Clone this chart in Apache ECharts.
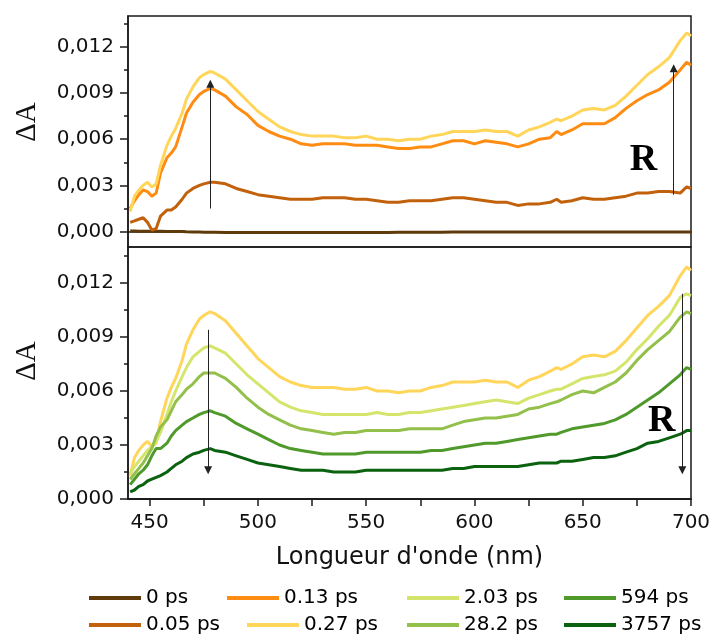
<!DOCTYPE html>
<html>
<head>
<meta charset="utf-8">
<script src="https://cdn.jsdelivr.net/npm/echarts@6/dist/echarts.min.js"></script>
<style>html,body{margin:0;padding:0;background:#fff}#chart{width:712px;height:636px}</style>
</head>
<body>
<div id="chart"></div>
<script>
// Wavelengths (nm)
const wl = [441,443,445,447,449,451,453,455,458,460,462,465,467,470,473,475,478,480,
  485,490,495,500,505,510,515,520,525,530,535,540,545,550,555,560,565,570,575,580,
  585,590,595,600,605,610,615,620,625,630,635,638,640,645,650,655,660,665,670,675,
  680,685,690,695,698,700];

// Series names
const names = ['0 ps','0.05 ps','0.13 ps','0.27 ps','2.03 ps','28.2 ps','594 ps','3757 ps'];

// ΔA values
const s0 = [0.00004,0.00004,0.00003,0.00003,0.00003,0.00002,0.00002,0.00002,0.00001,0.00001,0,0,-0.00001,-0.00002,-0.00003,-0.00004,-0.00005,-0.00005,
  -0.00006,-0.00006,-0.00006,-0.00006,-0.00006,-0.00006,-0.00006,-0.00006,-0.00006,-0.00006,-0.00006,-0.00006,-0.00006,-0.00006,-0.00006,-0.00006,
  -0.00005,-0.00005,-0.00004,-0.00004,-0.00004,-0.00003,-0.00003,-0.00003,-0.00002,-0.00002,-0.00002,-0.00002,-0.00002,-0.00002,-0.00002,-0.00002,
  -0.00002,-0.00002,-0.00002,-0.00002,-0.00002,-0.00002,-0.00002,-0.00002,-0.00002,-0.00002,-0.00002,-0.00002,-0.00002,-0.00002];
const s005 = [0.0006,0.0007,0.0008,0.0009,0.0006,0.0001,0.0002,0.0010,0.0014,0.0014,0.0016,0.0021,0.0025,0.0028,0.0030,0.0031,0.0032,0.0032,
  0.0031,0.0028,0.0026,0.0024,0.0023,0.0022,0.0021,0.0021,0.0021,0.0022,
  0.0022,0.0022,0.0021,0.0021,0.0020,0.0019,0.0019,0.0020,0.0020,0.0020,
  0.0021,0.0022,0.0022,0.0021,0.0020,0.0019,0.0019,0.0017,0.0018,0.0018,0.0019,0.0021,
  0.0019,0.0020,0.0022,0.0021,0.0021,0.0022,0.0023,0.0025,0.0025,0.0026,0.0026,0.0025,0.0029,0.0028];
const s013 = [0.0015,0.0020,0.0024,0.0027,0.0026,0.0023,0.0025,0.0038,0.0048,0.0051,0.0055,0.0068,0.0077,0.0084,0.0089,0.0091,0.0093,0.0092,
  0.0088,0.0081,0.0076,0.0069,0.0065,0.0062,0.0060,0.0057,0.0056,0.0057,
  0.0057,0.0057,0.0056,0.0056,0.0056,0.0055,0.0054,0.0054,0.0055,0.0055,
  0.0057,0.0059,0.0059,0.0057,0.0059,0.0058,0.0057,0.0055,0.0057,0.0060,0.0061,0.0065,
  0.0063,0.0066,0.0070,0.0070,0.0070,0.0074,0.0080,0.0085,0.0089,0.0092,0.0097,0.0105,0.0110,0.0108];
const s027 = [0.0013,0.0023,0.0027,0.0030,0.0032,0.0029,0.0031,0.0043,0.0056,0.0062,0.0067,0.0077,0.0086,0.0094,0.0100,0.0102,0.0104,0.0103,
  0.0099,0.0092,0.0085,0.0078,0.0073,0.0068,0.0065,0.0063,0.0062,0.0062,
  0.0062,0.0061,0.0061,0.0062,0.0060,0.0060,0.0059,0.0060,0.0060,0.0062,
  0.0063,0.0065,0.0065,0.0065,0.0066,0.0065,0.0065,0.0062,0.0066,0.0068,0.0071,0.0073,
  0.0072,0.0075,0.0079,0.0080,0.0079,0.0082,0.0088,0.0095,0.0102,0.0107,0.0113,0.0124,0.0129,0.0127];
const s203 = [0.0014,0.0018,0.0021,0.0024,0.0027,0.0029,0.0032,0.0037,0.0047,0.0054,0.0060,0.0068,0.0073,0.0079,0.0082,0.0084,0.0085,0.0084,
  0.0081,0.0075,0.0069,0.0064,0.0059,0.0054,0.0051,0.0049,0.0048,0.0047,
  0.0047,0.0047,0.0047,0.0047,0.0048,0.0047,0.0047,0.0048,0.0048,0.0049,
  0.0050,0.0051,0.0052,0.0053,0.0054,0.0055,0.0054,0.0053,0.0056,0.0058,0.0060,0.0061,
  0.0061,0.0064,0.0067,0.0068,0.0069,0.0071,0.0076,0.0083,0.0089,0.0096,0.0102,0.0112,0.0114,0.0113];
const s282 = [0.0011,0.0014,0.0017,0.0020,0.0024,0.0028,0.0035,0.0040,0.0044,0.0049,0.0054,0.0058,0.0061,0.0064,0.0068,0.0070,0.0070,0.0070,
  0.0067,0.0062,0.0056,0.0051,0.0047,0.0044,0.0041,0.0039,0.0038,0.0037,
  0.0036,0.0037,0.0037,0.0038,0.0038,0.0038,0.0038,0.0039,0.0039,0.0039,
  0.0039,0.0041,0.0043,0.0044,0.0045,0.0045,0.0046,0.0047,0.0050,0.0051,0.0053,0.0054,
  0.0055,0.0058,0.0060,0.0059,0.0062,0.0065,0.0070,0.0077,0.0083,0.0088,0.0093,0.0101,0.0104,0.0103];
const s594 = [0.0008,0.0011,0.0014,0.0016,0.0019,0.0024,0.0028,0.0028,0.0031,0.0035,0.0038,0.0041,0.0043,0.0045,0.0047,0.0048,0.0049,0.0048,
  0.0046,0.0042,0.0039,0.0036,0.0033,0.0030,0.0028,0.0027,0.0026,0.0025,
  0.0025,0.0025,0.0025,0.0026,0.0026,0.0026,0.0026,0.0026,0.0026,0.0027,
  0.0027,0.0028,0.0029,0.0030,0.0031,0.0031,0.0032,0.0033,0.0034,0.0035,0.0036,0.0036,
  0.0037,0.0039,0.0040,0.0041,0.0042,0.0044,0.0047,0.0051,0.0055,0.0059,0.0064,0.0069,0.0073,0.0072];
const s3757 = [0.0004,0.0005,0.0007,0.0008,0.0010,0.0011,0.0012,0.0013,0.0015,0.0017,0.0019,0.0021,0.0023,0.0025,0.0026,0.0027,0.0028,0.0027,
  0.0026,0.0024,0.0022,0.0020,0.0019,0.0018,0.0017,0.0016,0.0016,0.0016,
  0.0015,0.0015,0.0015,0.0016,0.0016,0.0016,0.0016,0.0016,0.0016,0.0016,
  0.0016,0.0017,0.0017,0.0018,0.0018,0.0018,0.0018,0.0018,0.0019,0.0020,0.0020,0.0020,
  0.0021,0.0021,0.0022,0.0023,0.0023,0.0024,0.0026,0.0028,0.0031,0.0032,0.0034,0.0036,0.0038,0.0038];

// Tick values
const xLabelTicks = [450,500,550,600,650,700];
const xTicks = [450,475,500,525,550,575,600,625,650,675,700];
const yLabelTicks = [0,0.003,0.006,0.009,0.012];
const yMinorTicks = [0.0015,0.0045,0.0075,0.0105,0.0135];

// Annotation arrows [x, yStart, yEnd] in data units
const arrowsTop = [[478,0.0015,0.0096],[692,0.0024,0.0106]];
const arrowsBottom = [[477,0.0094,0.0016],[696,0.0114,0.0016]];
const rTop = [678,0.00465];
const rBottom = [686.5,0.0043];

const colors = {
  '0 ps':'#5f3b0b','0.05 ps':'#c2610c','0.13 ps':'#ff8c12','0.27 ps':'#ffd55a',
  '2.03 ps':'#d5e56c','28.2 ps':'#93bf4b','594 ps':'#4f9a2b','3757 ps':'#0b620f'
};

const SANS = 'DejaVu Sans';
const AX = '#1a1a1a';
const fmt = v => Number(v).toFixed(3).replace('.', ',');

function pairs(ys){ return wl.map((x,i)=>[x, ys[i]]); }

function arrowLine(list){
  return {
    silent: true,
    symbol: ['none','triangle'],
    symbolSize: 8,
    label: {show:false},
    lineStyle: {color:'#222', width:1, type:'solid'},
    itemStyle: {color:'#111'},
    emphasis: {disabled:true},
    animation: false,
    data: list.map(a => [{coord:[a[0],a[1]]},{coord:[a[0],a[2]]}])
  };
}
function rMark(pt){
  return {
    silent: true,
    symbol: 'circle', symbolSize: 1,
    itemStyle: {color:'rgba(0,0,0,0)'},
    label: {show:true, position:'inside', formatter:'R', color:'#000',
      fontFamily:'Liberation Serif', fontWeight:'bold', fontSize:38},
    data: [{coord: pt}]
  };
}

function line(name, data, xi, yi, extra){
  return Object.assign({
    type:'line', name, data: pairs(data), xAxisIndex:xi, yAxisIndex:yi,
    showSymbol:false, symbol:'none', smooth:false,
    lineStyle:{width:3, color:colors[name]}, itemStyle:{color:colors[name]},
    emphasis:{disabled:true}, animation:false
  }, extra || {});
}

const series = [
  line('0 ps', s0, 0, 0),
  line('0.05 ps', s005, 0, 0),
  line('0.13 ps', s013, 0, 0),
  line('0.27 ps', s027, 0, 0, {markLine: arrowLine(arrowsTop), markPoint: rMark(rTop)}),
  line('0.27 ps', s027, 1, 2),
  line('2.03 ps', s203, 1, 2),
  line('28.2 ps', s282, 1, 2),
  line('594 ps', s594, 1, 2),
  line('3757 ps', s3757, 1, 2, {markLine: arrowLine(arrowsBottom), markPoint: rMark(rBottom)})
];

// legend layout: [name, left, top]
const legendPos = [
  ['0 ps',89,588],['0.13 ps',227,588],['2.03 ps',407,588],['594 ps',564,588],
  ['0.05 ps',89,615],['0.27 ps',247,615],['28.2 ps',407,615],['3757 ps',564,615]
];
const legends = legendPos.map(p => ({
  data:[p[0]], left:p[1], top:p[2], orient:'horizontal', padding:0, itemGap:0,
  icon:'rect', itemWidth:52, itemHeight:4, selectedMode:false,
  textStyle:{fontFamily:SANS, fontSize:20, color:'#000'}
}));

function xAx(gi, opts){
  return Object.assign({
    type:'value', gridIndex:gi, min:440, max:700,
    axisLine:{show:true, lineStyle:{color:AX, width:1.5}},
    axisTick:{show:false}, axisLabel:{show:false}, splitLine:{show:false}
  }, opts);
}
function yAx(gi, min, max, opts){
  return Object.assign({
    type:'value', gridIndex:gi, min, max, position:'left', offset:0,
    axisLine:{show:true, lineStyle:{color:AX, width:1.5}},
    axisTick:{show:false}, axisLabel:{show:false}, splitLine:{show:false}
  }, opts);
}
const majorY = {
  axisTick:{show:true, inside:false, length:8, customValues:yLabelTicks, lineStyle:{color:AX, width:1.5}},
  axisLabel:{show:true, customValues:yLabelTicks, formatter:fmt, margin:14,
    fontFamily:SANS, fontSize:20, color:'#111'}
};
const minorY = {
  axisLine:{show:false},
  axisTick:{show:true, inside:false, length:4, customValues:yMinorTicks, lineStyle:{color:AX, width:1.5}}
};

const option = {
  backgroundColor:'#fff',
  animation:false,
  grid:[
    {left:128, top:16, width:563, height:231, show:true, borderColor:AX, borderWidth:1.5, outerBoundsMode:'none', containLabel:false},
    {left:128, top:247, width:563, height:252, show:true, borderColor:AX, borderWidth:1.5, outerBoundsMode:'none', containLabel:false}
  ],
  xAxis:[
    xAx(0, {}),
    xAx(1, {
      position:'bottom',
      axisTick:{show:true, inside:false, length:7, customValues:xTicks, lineStyle:{color:AX, width:1.5}},
      axisLabel:{show:true, customValues:xLabelTicks, margin:14, fontFamily:SANS, fontSize:20, color:'#111'},
      name:"Longueur d'onde (nm)", nameLocation:'middle', nameGap:47,
      nameTextStyle:{fontFamily:SANS, fontSize:24, color:'#111'}
    }),
    xAx(1, {
      position:'top',
      axisTick:{show:true, inside:true, length:7, customValues:xTicks, lineStyle:{color:AX, width:1.5}}
    })
  ],
  yAxis:[
    yAx(0, -0.001, 0.014, majorY),
    yAx(0, -0.001, 0.014, minorY),
    yAx(1, 0, 0.014, majorY),
    yAx(1, 0, 0.014, minorY)
  ],
  legend: legends,
  graphic:[
    {type:'text', x:27, y:122, rotation:Math.PI/2,
      style:{text:'ΔA', font:'29px "Liberation Serif"', fill:'#111', align:'center', verticalAlign:'middle'}},
    {type:'text', x:27, y:361, rotation:Math.PI/2,
      style:{text:'ΔA', font:'29px "Liberation Serif"', fill:'#111', align:'center', verticalAlign:'middle'}}
  ],
  series
};

const chart = echarts.init(document.getElementById('chart'), null, {renderer:'canvas'});
chart.setOption(option);
</script>
</body>
</html>
